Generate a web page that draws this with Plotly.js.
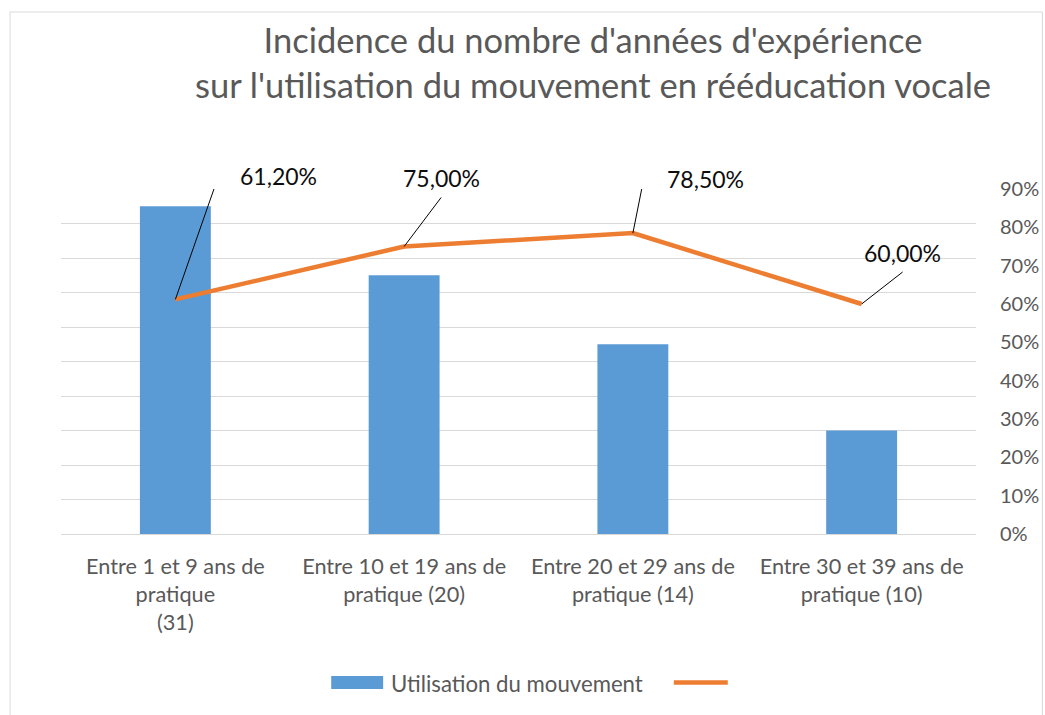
<!DOCTYPE html>
<html>
<head>
<meta charset="utf-8">
<script src="https://cdn.plot.ly/plotly-3.0.1.min.js"></script>
<style>html,body{margin:0;padding:0;background:#fff;}#chart{width:1045px;height:715px;}</style>
</head>
<body>
<div id="chart"></div>
<script>
// ---- Data ----
var categories = [
  "Entre 1 et 9 ans de<br>pratique<br>(31)",
  "Entre 10 et 19 ans de<br>pratique (20)",
  "Entre 20 et 29 ans de<br>pratique (14)",
  "Entre 30 et 39 ans de<br>pratique (10)"
];
var barValues = [0.95, 0.75, 0.55, 0.30];
var lineValues = [0.612, 0.75, 0.785, 0.60];
var lineLabels = ["61,20%", "75,00%", "78,50%", "60,00%"];
var barName = "Utilisation du mouvement";
var rightTicks = [0, 0.1, 0.2, 0.3, 0.4, 0.5, 0.6, 0.7, 0.8, 0.9];
var rightTickText = ["0%", "10%", "20%", "30%", "40%", "50%", "60%", "70%", "80%", "90%"];

// ---- Layout geometry (pixels) ----
var W = 1045, H = 715;
var L = 60.5, R = 976.5, T = 189, B = 534;
function px2paperX(p) { return (p - L) / (R - L); }
function px2paperY(p) { return (B - p) / (B - T); }

var FONT = "Lato, 'Open Sans', sans-serif";
var GREY = "#595959";
var BLUE = "#5B9BD5";
var ORANGE = "#ED7D31";

// label placement: leader path (pixel offsets, y up) and text offsets
var leaderPaths = [
  "M0,0L43,123L55,123",
  "M0,0L37,49",
  "M0,0L11,55L24,55",
  "M0,0L41,32"
];
var labelOffsets = [
  {dx: 63, dy: 123, anchor: "left"},
  {dx: 37, dy: 69, anchor: "center"},
  {dx: 32, dy: 54, anchor: "left"},
  {dx: 41, dy: 51, anchor: "center"}
];

var traces = [
  {
    type: "bar",
    x: categories,
    y: barValues,
    name: barName,
    marker: {color: BLUE},
    width: 0.31,
    hoverinfo: "x+y",
    showlegend: false
  },
  {
    type: "scatter",
    mode: "lines",
    x: categories,
    y: lineValues,
    yaxis: "y2",
    name: "",
    line: {color: ORANGE, width: 4.5},
    showlegend: false
  }
];

var shapes = [];
var annotations = [];
for (var i = 0; i < categories.length; i++) {
  shapes.push({
    type: "path",
    xref: "x", yref: "y2",
    xsizemode: "pixel", ysizemode: "pixel",
    xanchor: i, yanchor: lineValues[i],
    path: leaderPaths[i],
    line: {color: "#000000", width: 1}
  });
  annotations.push({
    xref: "x", yref: "y2",
    x: i, y: lineValues[i],
    xshift: labelOffsets[i].dx, yshift: labelOffsets[i].dy,
    xanchor: labelOffsets[i].anchor, yanchor: "middle",
    text: lineLabels[i],
    showarrow: false,
    font: {family: FONT, size: 23, color: "#0d0d0d"}
  });
}

// outer frame
shapes.push({
  type: "rect", xref: "paper", yref: "paper",
  x0: px2paperX(9.5), x1: px2paperX(1043), y0: px2paperY(730), y1: px2paperY(12),
  line: {color: "#D9D9D9", width: 1}, fillcolor: "rgba(0,0,0,0)", layer: "below"
});
// legend swatches
shapes.push({
  type: "rect", xref: "paper", yref: "paper",
  x0: px2paperX(331), x1: px2paperX(383), y0: px2paperY(689), y1: px2paperY(676),
  line: {width: 0}, fillcolor: BLUE
});
shapes.push({
  type: "line", xref: "paper", yref: "paper",
  x0: px2paperX(674), x1: px2paperX(728), y0: px2paperY(682.5), y1: px2paperY(682.5),
  line: {color: ORANGE, width: 4.5}
});
annotations.push({
  xref: "paper", yref: "paper",
  x: px2paperX(389), y: px2paperY(683),
  xanchor: "left", yanchor: "middle",
  text: barName, showarrow: false,
  font: {family: FONT, size: 22.2, color: GREY}
});

var layout = {
  width: W, height: H,
  margin: {l: L, r: W - R, t: T, b: H - B, pad: 0},
  paper_bgcolor: "#ffffff",
  plot_bgcolor: "#ffffff",
  font: {family: FONT, color: GREY},
  title: {
    text: "Incidence du nombre d'années d'expérience<br>sur l'utilisation du mouvement en rééducation vocale",
    font: {family: FONT, size: 34.5, color: GREY},
    x: 593 / W, xanchor: "center",
    y: 1 - 53 / H, yanchor: "middle", yref: "container"
  },
  xaxis: {
    type: "category",
    showgrid: false,
    showline: true, linecolor: "#D9D9D9", linewidth: 1,
    ticks: "",
    tickfont: {family: FONT, size: 21.7, color: GREY},
    ticklabelstandoff: 13,
    zeroline: false
  },
  yaxis: {
    range: [0, 1],
    dtick: 0.1,
    showticklabels: false,
    showgrid: true, gridcolor: "#D9D9D9", gridwidth: 1,
    zeroline: false,
    ticks: "",
    fixedrange: true
  },
  yaxis2: {
    overlaying: "y",
    side: "right",
    range: [0, 0.9],
    tickvals: rightTicks,
    ticktext: rightTickText,
    showgrid: false,
    zeroline: false,
    ticks: "",
    ticklabelstandoff: 23,
    tickfont: {family: FONT, size: 20, color: GREY}
  },
  showlegend: false,
  shapes: shapes,
  annotations: annotations
};

Plotly.newPlot("chart", traces, layout, {displayModeBar: false, staticPlot: true});
</script>
</body>
</html>
